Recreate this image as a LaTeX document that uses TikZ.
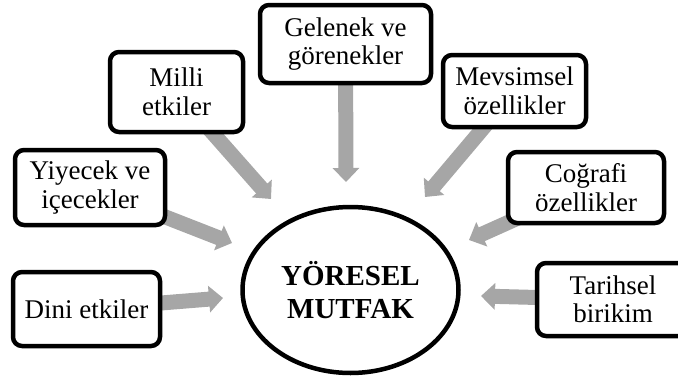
\documentclass[tikz,border=0pt]{standalone}
\usepackage{fontspec}
\setmainfont{Liberation Serif}
\usetikzlibrary{arrows.meta,shapes.geometric}
\definecolor{arrowgray}{RGB}{166,166,166}
\pgfdeclarelayer{bg}
\pgfsetlayers{bg,main}
\begin{document}
\begin{tikzpicture}[x=1pt,y=-1pt,
  box/.style={draw=black, fill=white, line width=4.5pt, rounded corners=9pt,
    align=center, inner sep=0pt, font=\fontsize{27}{28.5}\selectfont},
  flow/.style={draw=arrowgray, line width=15pt, -{Triangle[width=26pt,length=14pt]}}]
\useasboundingbox (0,0) rectangle (678,378);

\node[box, minimum width=171pt, minimum height=78pt] (gelenek) at (345.5,44) {Gelenek ve\\görenekler};
\node[box, minimum width=133pt, minimum height=80pt] (milli) at (176.5,92) {Milli\\etkiler};
\node[box, minimum width=143pt, minimum height=72pt] (mevsimsel) at (514.5,91) {Mevsimsel\\özellikler};
\node[box, minimum width=150pt, minimum height=75pt] (yiyecek) at (90,187.5) {Yiyecek ve\\içecekler};
\node[box, minimum width=156pt, minimum height=71pt] (cografi) at (586,187.5) {Coğrafi\\özellikler};
\node[box, minimum width=147pt, minimum height=74pt] (dini) at (86.5,309) {Dini etkiler};
\node[box, minimum width=152pt, minimum height=73pt] (tarihsel) at (613,299.5) {Tarihsel\\birikim};

\node[ellipse, draw=black, fill=white, line width=4.5pt, minimum width=216pt, minimum height=166pt,
  inner sep=0pt, align=center, font=\bfseries\fontsize{29}{33}\selectfont] (mutfak) at (350.5,290) {YÖRESEL\\MUTFAK};

\coordinate (tmilli) at (271,199);
\coordinate (tgelenek) at (346,182);
\coordinate (tmevsimsel) at (425,197);
\coordinate (tyiyecek) at (232,243);
\coordinate (tdini) at (223,298);
\coordinate (tcografi) at (469,240);
\coordinate (ttarihsel) at (481,296);

\begin{pgfonlayer}{bg}
\draw[flow] (milli.center) -- (tmilli);
\draw[flow] (gelenek.center) -- (tgelenek);
\draw[flow] (mevsimsel.center) -- (tmevsimsel);
\draw[flow] (yiyecek.center) -- (tyiyecek);
\draw[flow] (dini.center) -- (tdini);
\draw[flow] (cografi.center) -- (tcografi);
\draw[flow] (tarihsel.center) -- (ttarihsel);
\end{pgfonlayer}
\end{tikzpicture}
\end{document}
